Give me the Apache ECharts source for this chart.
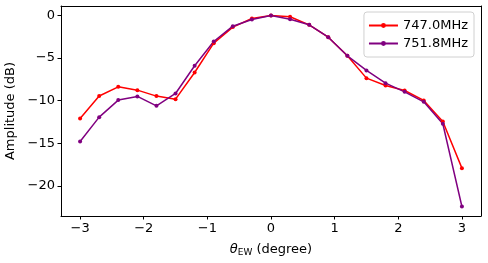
<!DOCTYPE html>
<html><head><meta charset="utf-8">
<script src="https://cdn.jsdelivr.net/npm/echarts@6/dist/echarts.min.js"></script>
<style>html,body{margin:0;padding:0;background:#fff}#c{width:488px;height:263px}</style>
</head><body><div id="c"></div>
<script>
const angles = [-3.0,-2.7,-2.4,-2.1,-1.8,-1.5,-1.2,-0.9,-0.6,-0.3,0.0,0.3,0.6,0.9,1.2,1.5,1.8,2.1,2.4,2.7,3.0];
const amp747 = [-12.1,-9.45,-8.37,-8.76,-9.46,-9.82,-6.69,-3.24,-1.36,-0.35,0.0,-0.15,-1.09,-2.54,-4.73,-7.35,-8.21,-8.8,-9.97,-12.44,-17.92];
const amp751 = [-14.79,-11.93,-9.93,-9.5,-10.6,-9.15,-5.9,-3.05,-1.25,-0.46,0.0,-0.43,-1.09,-2.54,-4.73,-6.45,-7.94,-8.96,-10.13,-12.71,-22.42];
const xTicks = [-3,-2,-1,0,1,2,3];
const yTicks = [-20,-15,-10,-5,0];
const seriesNames = ['747.0MHz','751.8MHz'];

const fmt = v => String(v).replace('-', '\u2212');
const font = 'DejaVu Sans';
const FS = 13;
const chart = echarts.init(document.getElementById('c'));
const mk = (name, data, color) => ({
  name, type: 'line', data: angles.map((a,i)=>[a,data[i]]),
  lineStyle: {color, width: 1.5}, itemStyle: {color},
  symbol: 'circle', symbolSize: 4, showSymbol: true, animation: false
});
const frameAxis = (pos) => ({
  type: 'value', position: pos,
  axisLine: {show: true, onZero: false, lineStyle: {color: '#000', width: 1}},
  axisTick: {show: false}, axisLabel: {show: false}, splitLine: {show: false}
});
chart.setOption({
  animation: false,
  textStyle: {fontFamily: font},
  grid: {left: 61, top: 6, width: 420, height: 210, containLabel: false, outerBoundsMode: 'none'},
  legend: {
    right: 14, top: 12, orient: 'vertical', itemGap: 5, itemWidth: 29, itemHeight: 6,
    backgroundColor: '#fff', borderColor: '#d0d0d0', borderWidth: 1, borderRadius: 3, padding: [7,6,7,4],
    textStyle: {fontFamily: font, fontSize: FS, color: '#000'},
    data: seriesNames
  },
  xAxis: [{
    type: 'value', min: -3.3, max: 3.3,
    name: '{i|θ}{s|EW} (degree)', nameLocation: 'middle', nameGap: 26,
    nameTextStyle: {fontFamily: font, fontSize: FS, color: '#000', rich: {i:{fontFamily: font, fontSize:FS, fontStyle:'italic', color:'#000'}, s:{fontFamily: font, fontSize:9, color:'#000', verticalAlign:'bottom', padding:[6,0,0,0]}}},
    axisLine: {show: true, onZero: false, lineStyle: {color: '#000', width: 1}},
    axisTick: {show: true, length: 3.5, lineStyle: {color: '#000'}, customValues: xTicks},
    axisLabel: {color: '#000', fontSize: FS, fontFamily: font, margin: 6, customValues: xTicks, formatter: fmt},
    splitLine: {show: false}
  }, Object.assign(frameAxis('top'), {min: -3.3, max: 3.3})],
  yAxis: [{
    type: 'value', min: -23.54, max: 1.12,
    name: 'Amplitude (dB)', nameLocation: 'middle', nameGap: 36, nameRotate: 90,
    nameTextStyle: {fontFamily: font, fontSize: FS, color: '#000'},
    axisLine: {show: true, onZero: false, lineStyle: {color: '#000', width: 1}},
    axisTick: {show: true, length: 3.5, lineStyle: {color: '#000'}, customValues: yTicks},
    axisLabel: {color: '#000', fontSize: FS, fontFamily: font, margin: 6, customValues: yTicks, formatter: fmt},
    splitLine: {show: false}
  }, Object.assign(frameAxis('right'), {min: -23.54, max: 1.12})],
  series: [mk(seriesNames[0], amp747, '#ff0000'), mk(seriesNames[1], amp751, '#800080')]
});
</script></body></html>
